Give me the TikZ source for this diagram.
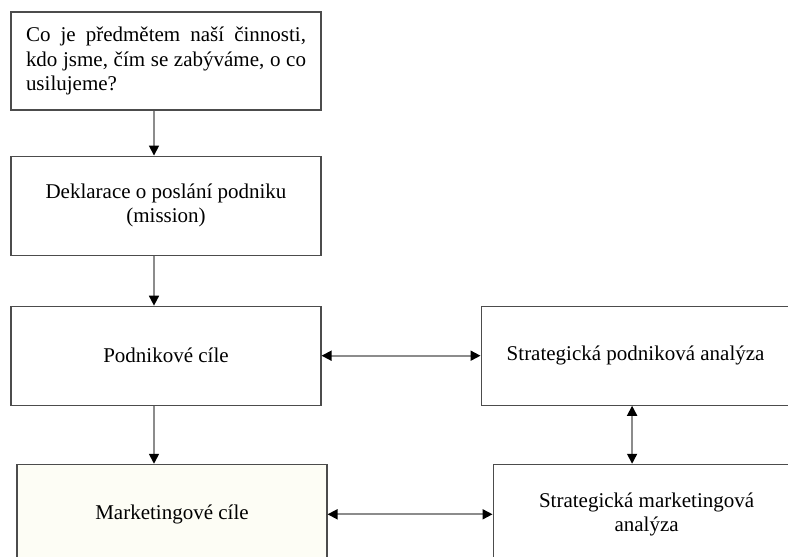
\documentclass[tikz,border=0pt]{standalone}
\usepackage{fontspec}
\setmainfont{Liberation Serif}
\usetikzlibrary{arrows.meta, positioning}
\definecolor{paleyellow}{HTML}{FDFDF5}

\begin{document}
\begin{tikzpicture}[
			x=1pt, y=-1pt,
			block/.style = {rectangle, draw=black!70, line width=1.1pt, minimum width=310pt, minimum height=99pt, align=center, inner sep=0pt, font=\fontsize{21}{24.5}\selectfont},
			arr/.style = {-{Triangle[length=10pt, width=10pt, color=black]}, draw=black!45, line width=1.7pt},
			darr/.style = {{Triangle[length=10pt, width=10pt, color=black]}-{Triangle[length=10pt, width=10pt, color=black]}, draw=black!45, line width=1.7pt},
		]
			\clip (0,0) rectangle (788,557);
			% levy sloupec
			\node[block, text width=280pt, align=justify, minimum height=98pt] at (166,61) (question) {Co je předmětem naší činnosti, kdo jsme, čím se zabýváme, o co usilujeme?};
			\node[block, below=45pt of question] (mission) {Deklarace o poslání podniku\\ (mission)};
			\node[block, below=50pt of mission] (goals) {Podnikové cíle};
			\node[block, fill=paleyellow, minimum height=100pt, below=58pt of goals, xshift=6pt] (mgoals) {Marketingové cíle};
			% pravy sloupec
			\node[block, minimum width=309pt, right=159pt of goals] (analysis) {Strategická podniková analýza};
			\node[block, minimum width=307pt, minimum height=100pt, right=165pt of mgoals] (manalysis) {Strategická marketingová\\ analýza};

			% sipky
			\draw[arr] ([xshift=-12pt]question.south) -- ([xshift=-12pt]mission.north);
			\draw[arr] ([xshift=-12pt]mission.south) -- ([xshift=-12pt]goals.north);
			\draw[arr] ([xshift=-12pt]goals.south) -- ([xshift=-18pt]mgoals.north);
			\draw[darr] (goals.east) -- (analysis.west);
			\draw[darr] (mgoals.east) -- (manalysis.west);
			\draw[darr] ([xshift=-3.5pt]analysis.south) -- ([xshift=-3.5pt]analysis.south |- manalysis.north);
		\end{tikzpicture}
\end{document}
